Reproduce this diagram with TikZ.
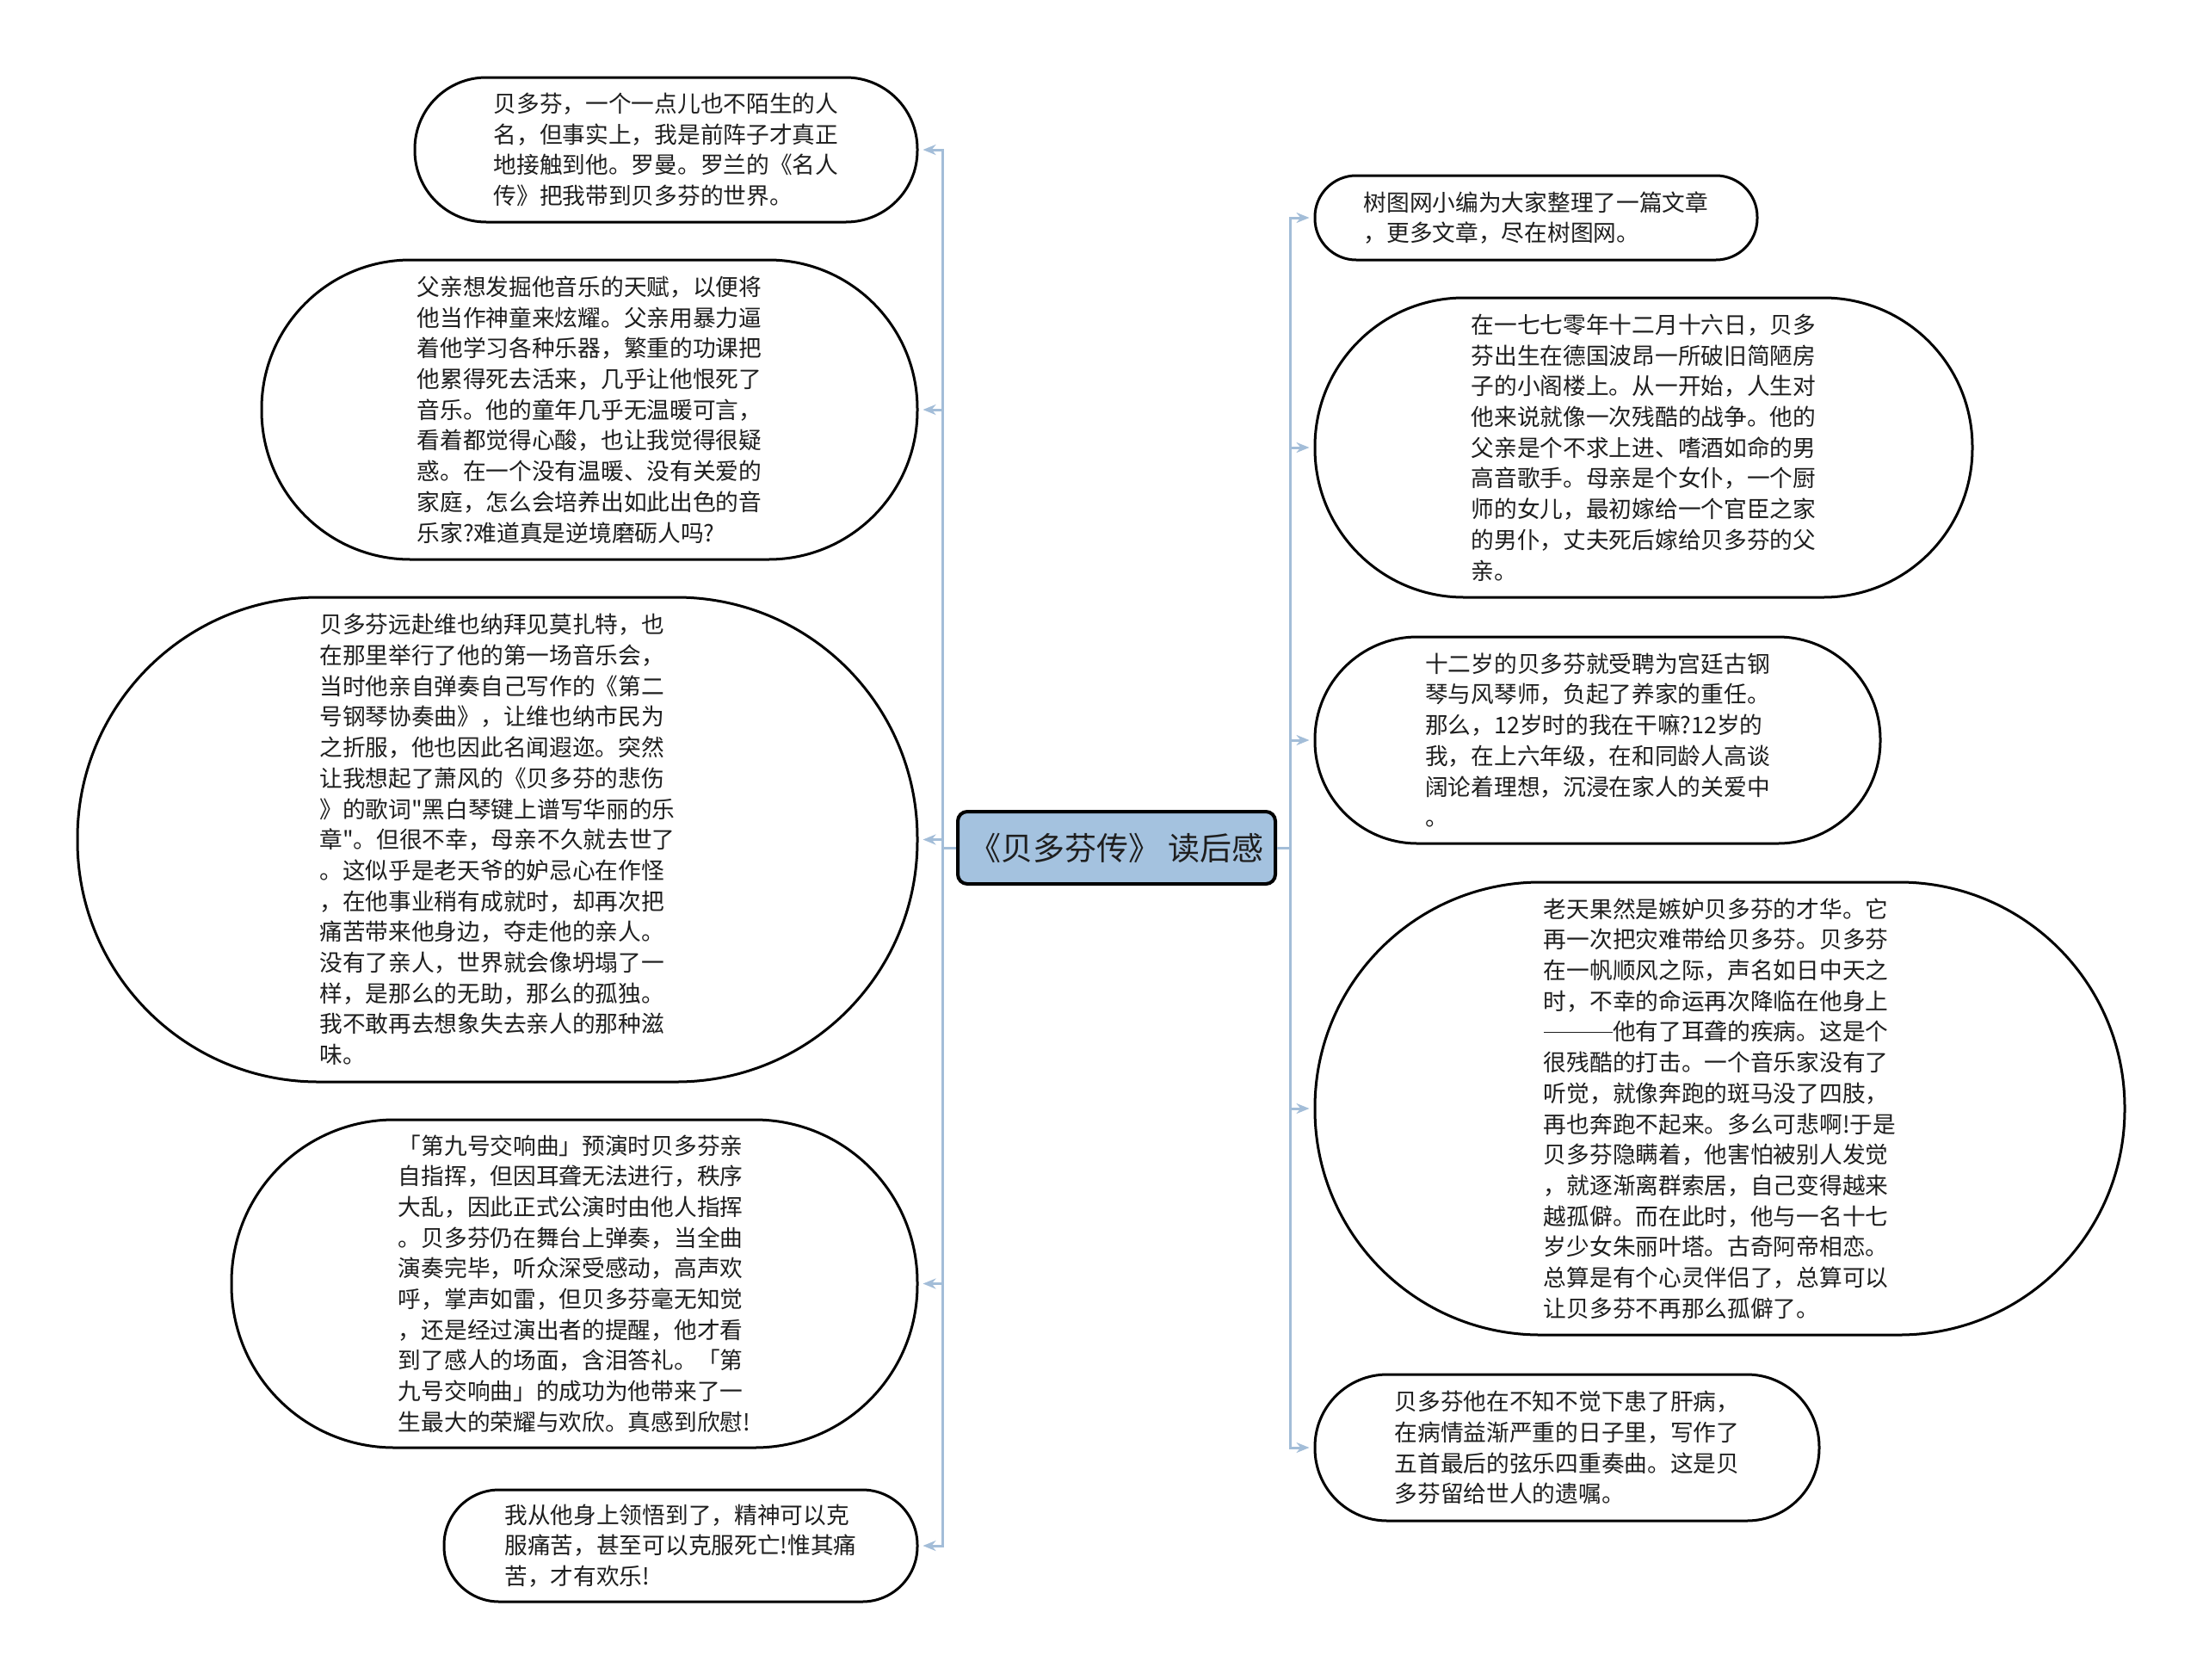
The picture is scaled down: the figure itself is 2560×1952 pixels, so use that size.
\documentclass[tikz,border=0pt]{standalone}
\usepackage{fontspec}
\setmainfont{Noto Sans CJK SC}[Ligatures=TeXOff]
\newfontfamily\qfont{Noto Sans CJK SC}
\usetikzlibrary{arrows.meta}
\definecolor{conncol}{HTML}{A3BDD8}
\definecolor{rootfill}{HTML}{A4C2DF}
\definecolor{txtcol}{HTML}{1E1E1E}
\newcommand{\sq}{{\qfont"}}
\newcommand{\longdash}{\rule[0.34em]{3em}{1.4pt}}
\tikzset{
  bub/.style={draw=black, line width=3pt, fill=white, text=txtcol, align=left,
    inner sep=0pt, font=\fontsize{26.7}{35.7}\selectfont},
  rootbox/.style={draw=black, line width=4pt, fill=rootfill, text=txtcol,
    rounded corners=11pt, inner sep=0pt, font=\fontsize{37}{42}\selectfont},
  link/.style={draw=conncol, line width=3pt, -{Stealth[length=15pt,width=12pt]},
    shorten >=5pt}
}
\begin{document}
\begin{tikzpicture}[x=1pt,y=-1pt]
\fill[white] (0,0) rectangle (2560,1952);
\useasboundingbox (0,0) rectangle (2560,1952);

\node[rootbox, minimum width=369pt, minimum height=84pt] (root) at (1297.5,985) {《贝多芬传》 读后感};

% left side
\node[bub, minimum width=584pt, minimum height=168pt, rounded corners=83pt] (L1) at (774,174)
 {贝多芬，一个一点儿也不陌生的人\\名，但事实上，我是前阵子才真正\\地接触到他。罗曼。罗兰的《名人\\传》把我带到贝多芬的世界。};

\node[bub, minimum width=762pt, minimum height=348pt, rounded corners=173pt] (L2) at (685,476)
 {父亲想发掘他音乐的天赋，以便将\\他当作神童来炫耀。父亲用暴力逼\\着他学习各种乐器，繁重的功课把\\他累得死去活来，几乎让他恨死了\\音乐。他的童年几乎无温暖可言，\\看着都觉得心酸，也让我觉得很疑\\惑。在一个没有温暖、没有关爱的\\家庭，怎么会培养出如此出色的音\\乐家?难道真是逆境磨砺人吗?};

\node[bub, minimum width=976pt, minimum height=563pt, rounded corners=280pt] (L3) at (578,975.5)
 {贝多芬远赴维也纳拜见莫扎特，也\\在那里举行了他的第一场音乐会，\\当时他亲自弹奏自己写作的《第二\\号钢琴协奏曲》，让维也纳市民为\\之折服，他也因此名闻遐迩。突然\\让我想起了萧风的《贝多芬的悲伤\\》的歌词"黑白琴键上谱写华丽的乐\\章"。但很不幸，母亲不久就去世了\\。这似乎是老天爷的妒忌心在作怪\\，在他事业稍有成就时，却再次把\\痛苦带来他身边，夺走他的亲人。\\没有了亲人，世界就会像坍塌了一\\样，是那么的无助，那么的孤独。\\我不敢再去想象失去亲人的那种滋\\味。};

\node[bub, minimum width=797pt, minimum height=381pt, rounded corners=189pt] (L4) at (667.5,1491.5)
 {「第九号交响曲」预演时贝多芬亲\\自指挥，但因耳聋无法进行，秩序\\大乱，因此正式公演时由他人指挥\\。贝多芬仍在舞台上弹奏，当全曲\\演奏完毕，听众深受感动，高声欢\\呼，掌声如雷，但贝多芬毫无知觉\\，还是经过演出者的提醒，他才看\\到了感人的场面，含泪答礼。「第\\九号交响曲」的成功为他带来了一\\生最大的荣耀与欢欣。真感到欣慰!};

\node[bub, minimum width=550pt, minimum height=130pt, rounded corners=64pt] (L5) at (791,1796)
 {我从他身上领悟到了，精神可以克\\服痛苦，甚至可以克服死亡!惟其痛\\苦，才有欢乐!};

% right side
\node[bub, minimum width=514pt, minimum height=98pt, rounded corners=48pt] (R1) at (1785,253)
 {树图网小编为大家整理了一篇文章\\，更多文章，尽在树图网。};

\node[bub, minimum width=764pt, minimum height=348pt, rounded corners=173pt] (R2) at (1910,520)
 {在一七七零年十二月十六日，贝多\\芬出生在德国波昂一所破旧简陋房\\子的小阁楼上。从一开始，人生对\\他来说就像一次残酷的战争。他的\\父亲是个不求上进、嗜酒如命的男\\高音歌手。母亲是个女仆，一个厨\\师的女儿，最初嫁给一个官臣之家\\的男仆，丈夫死后嫁给贝多芬的父\\亲。};

\node[bub, minimum width=657pt, minimum height=240pt, rounded corners=119pt] (R3) at (1856.5,860)
 {十二岁的贝多芬就受聘为宫廷古钢\\琴与风琴师，负起了养家的重任。\\那么，12岁时的我在干嘛?12岁的\\我，在上六年级，在和同龄人高谈\\阔论着理想，沉浸在家人的关爱中\\。};

\node[bub, minimum width=941pt, minimum height=526pt, rounded corners=262pt] (R4) at (1998.5,1288)
 {老天果然是嫉妒贝多芬的才华。它\\再一次把灾难带给贝多芬。贝多芬\\在一帆顺风之际，声名如日中天之\\时，不幸的命运再次降临在他身上\\\longdash 他有了耳聋的疾病。这是个\\很残酷的打击。一个音乐家没有了\\听觉，就像奔跑的斑马没了四肢，\\再也奔跑不起来。多么可悲啊!于是\\贝多芬隐瞒着，他害怕被别人发觉\\，就逐渐离群索居，自己变得越来\\越孤僻。而在此时，他与一名十七\\岁少女朱丽叶塔。古奇阿帝相恋。\\总算是有个心灵伴侣了，总算可以\\让贝多芬不再那么孤僻了。};

\node[bub, minimum width=586pt, minimum height=170pt, rounded corners=84pt] (R5) at (1821,1682)
 {贝多芬他在不知不觉下患了肝病，\\在病情益渐严重的日子里，写作了\\五首最后的弦乐四重奏曲。这是贝\\多芬留给世人的遗嘱。};

% connectors
\foreach \n in {L1,L2,L3,L4,L5}
  \draw[link] (root.west) -- ++(-16,0) |- (\n.east);
\foreach \n in {R1,R2,R3,R4,R5}
  \draw[link] (root.east) -- ++(15,0) |- (\n.west);
\end{tikzpicture}
\end{document}
